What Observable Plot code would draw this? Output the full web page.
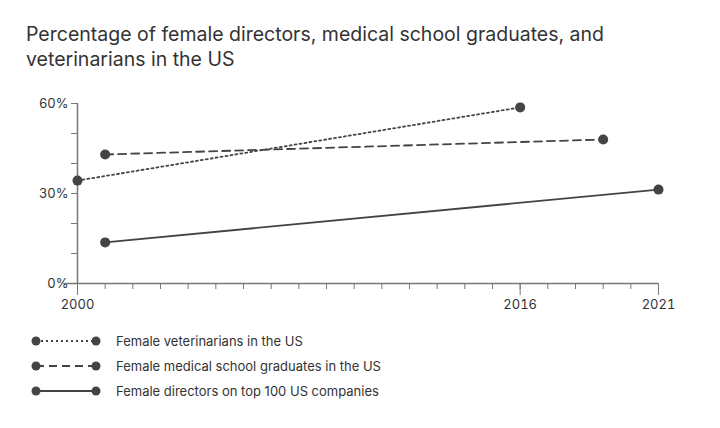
<!DOCTYPE html>
<html><head><meta charset="utf-8">
<script src="https://cdn.jsdelivr.net/npm/d3@7"></script>
<script src="https://cdn.jsdelivr.net/npm/@observablehq/plot@0.6"></script>
<style>
body{margin:0;background:#fff;font-family:Inter,sans-serif;color:#333;width:720px}
h1{font-size:19.5px;font-weight:400;line-height:25px;margin:0;padding:22px 0 0 26px;height:63px;width:600px}
.leg{margin-left:30px;font-size:13px;color:#333}
.leg div{display:flex;align-items:center;height:25px}
.leg svg{margin-right:14px}
</style></head><body>
<h1>Percentage of female directors, medical school graduates, and veterinarians in the US</h1>
<div id="chart"></div>
<div class="leg" id="legend"></div>
<script>
const seriesNames = ["Female veterinarians in the US","Female medical school graduates in the US","Female directors on top 100 US companies"];
const vetYears = [2000, 2016], vetValues = [0.343, 0.587];
const medYears = [2001, 2019], medValues = [0.43, 0.48];
const dirYears = [2001, 2021], dirValues = [0.137, 0.313];
const dashes = ["2,3", "8,5", null];
const xTickLabels = [2000, 2016, 2021];
const yTicks = [0, 0.3, 0.6];

const data = [];
[[vetYears,vetValues],[medYears,medValues],[dirYears,dirValues]].forEach(([ys,vs],i)=>ys.forEach((y,j)=>data.push({s:seriesNames[i],year:y,v:vs[j],i})));
const col="#444", axc="#777";
const marks = [
  Plot.ruleY([0],{x1:1999.5,x2:2021,stroke:axc,strokeWidth:1.5}),
  Plot.ruleX([2000],{y1:0,y2:0.6,stroke:axc,strokeWidth:1.5}),
  Plot.axisX(d3.range(2000,2022),{tickSize:6,stroke:axc,text:null,label:null}),
  Plot.axisX(xTickLabels,{tickSize:12,stroke:axc,tickFormat:d=>String(d),fontSize:13,fill:"#333",tickPadding:4,label:null}),
  Plot.axisY(d3.range(0,0.61,0.1),{tickSize:6,stroke:axc,text:null,label:null}),
  Plot.axisY(yTicks,{tickSize:6,stroke:axc,tickFormat:d=>Math.round(d*100)+"%",fontSize:13,fill:"#333",label:null}),
];
seriesNames.forEach((s,i)=>{
  const d=data.filter(e=>e.i===i);
  marks.push(Plot.line(d,{x:"year",y:"v",stroke:col,strokeWidth:1.8,strokeDasharray:dashes[i]}));
  marks.push(Plot.dot(d,{x:"year",y:"v",fill:col,r:5}));
});
const chart = Plot.plot({width:720,height:233,marginTop:18,marginBottom:35,marginLeft:77,marginRight:62,
  x:{domain:[2000,2021],label:null},y:{domain:[0,0.6],label:null},style:{fontFamily:"Inter,sans-serif",fontSize:"13px",color:"#333"},
  marks});
document.getElementById("chart").append(chart);
const leg=document.getElementById("legend");
leg.style.marginTop="10px";
seriesNames.forEach((s,i)=>{
  const div=document.createElement("div");
  div.innerHTML=`<svg width="72" height="12"><line x1="6" x2="66" y1="6" y2="6" stroke="${col}" stroke-width="1.8" ${dashes[i]?`stroke-dasharray="${dashes[i]}"`:""}/><circle cx="6" cy="6" r="4.5" fill="${col}"/><circle cx="66" cy="6" r="4.5" fill="${col}"/></svg><span>${s}</span>`;
  leg.append(div);
});
</script></body></html>
